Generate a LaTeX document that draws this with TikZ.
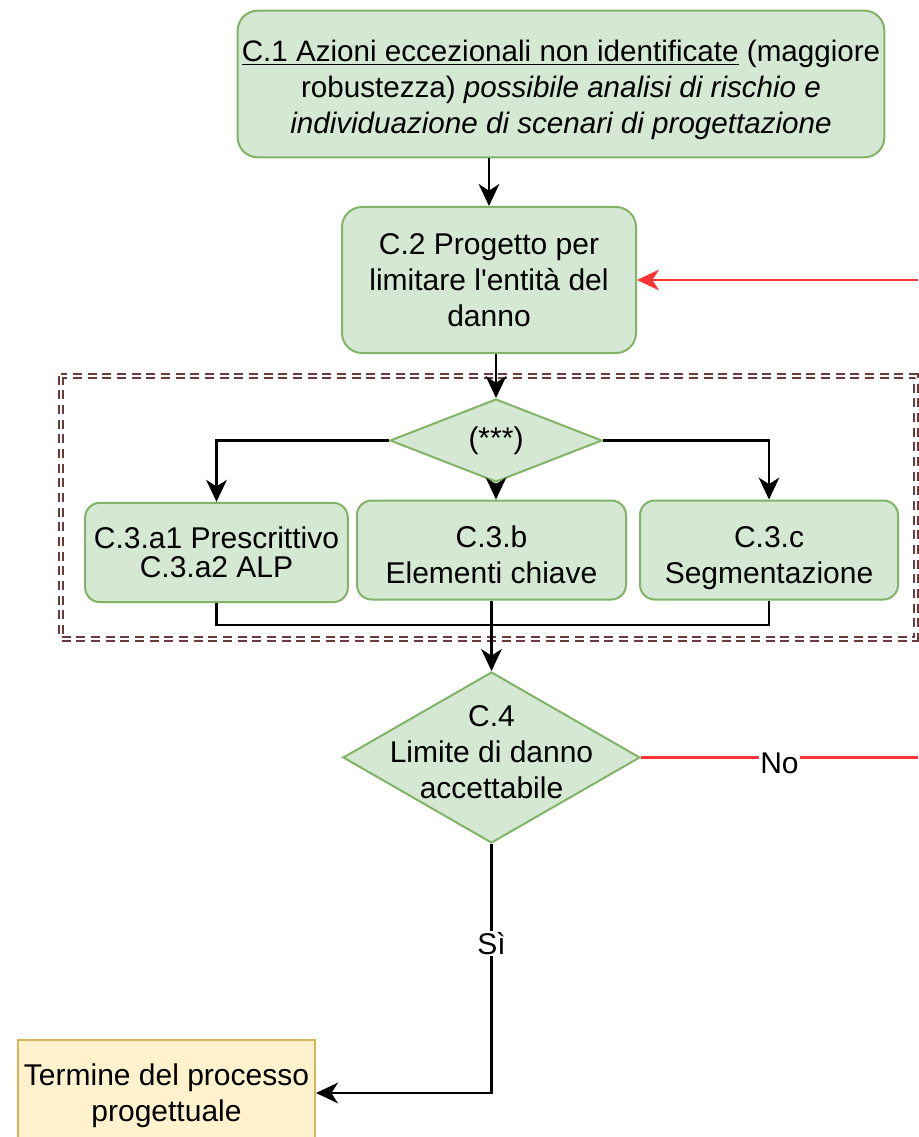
\documentclass[tikz,border=0pt]{standalone}
\usepackage{fontspec}
\setmainfont{Liberation Sans}
\usetikzlibrary{shapes.geometric,arrows.meta,positioning,calc}

\definecolor{boxgreen}{HTML}{D5E8D4}
\definecolor{linegreen}{HTML}{82B366}
\definecolor{boxyellow}{HTML}{FFF2CC}
\definecolor{lineyellow}{HTML}{D6B656}
\definecolor{loopred}{HTML}{FF3333}
\definecolor{framebrown}{HTML}{6B3A3A}

% text block with fixed line boxes, optional extra room on top
\newcommand{\boxrows}[2][0pt]{%
  \rule[-5.7pt]{0pt}{\dimexpr27pt+#1\relax}#2\rule[-5.7pt]{0pt}{27pt}}

\begin{document}
\begin{tikzpicture}[
  x=0.75pt, y=-0.75pt,
  >={Stealth[length=16.5pt,width=15.5pt,inset=5pt]},
  every node/.style={font=\fontsize{22.5}{27}\selectfont},
  phase/.style={draw=linegreen, fill=boxgreen, line width=1.5pt,
    rounded corners=15pt, align=center, inner sep=0pt},
  choice/.style={diamond, draw=linegreen, fill=boxgreen, line width=1.5pt,
    inner sep=0pt},
  closing/.style={draw=lineyellow, fill=boxyellow, line width=1.5pt,
    align=center, inner sep=0pt},
  flow/.style={line width=1.8pt},
  back/.style={draw=loopred, line width=1.7pt},
  tag/.style={fill=white, inner sep=1pt}
]
  \path[fill=white, use as bounding box] (0,0) rectangle (918,1137);

  % Design steps
  \node[phase, minimum width=485pt, minimum height=110pt,
    font=\fontsize{22.2}{27}\selectfont] (c1) at (561,84)
    {\boxrows[5.25pt]{\underline{C.1 Azioni eccezionali non identificate} (maggiore\\
     robustezza) \textit{possibile analisi di rischio e}\\
     \textit{individuazione di scenari di progettazione}}};
  \node[phase, minimum width=220.5pt, minimum height=109.5pt] (c2) at (489,280)
    {\boxrows{C.2 Progetto per\\limitare l\textquotesingle entità del\\danno}};

  % Strategy choice and the three options
  \node[choice, minimum width=159pt, minimum height=53.25pt] (d3) at (496,440.5) {(***)};
  \node[phase, rounded corners=11pt, minimum width=197pt, minimum height=74.5pt,
    font=\fontsize{22.5}{21.5}\selectfont] (c3a) at (216.5,552.5)
    {C.3.a1 Prescrittivo\\C.3.a2 ALP};
  \node[phase, rounded corners=11pt, minimum width=201.75pt, minimum height=74.25pt]
    (c3b) at (491.5,550) {\boxrows[7.5pt]{C.3.b\\Elementi chiave}};
  \node[phase, rounded corners=11pt, minimum width=193.5pt, minimum height=74.25pt]
    (c3c) at (769,550) {\boxrows[7.5pt]{C.3.c\\Segmentazione}};

  % Check and end of the process
  \node[choice, minimum width=222.75pt, minimum height=128.25pt,
    label={[align=center, yshift=4pt]center:{C.4\\Limite di danno\\accettabile}}]
    (c4) at (491.5,757.5) {};
  \node[closing, minimum width=222.75pt, minimum height=79.5pt] (end) at (166.5,1093)
    {\boxrows{Termine del processo\\progettuale}};

  % Frame around the strategy block
  \draw[framebrown, dash pattern=on 6.75pt off 4.25pt, line width=1.5pt,
    double=white, double distance=1.5pt] (60.5,375.5) rectangle (915.5,638.5);

  % Connectors
  \draw[flow,->] (c2.north |- c1.south) -- (c2.north);
  \coordinate (redin) at (918,280);
  \draw[back,->] (redin) -- (c2.east);
  \draw[flow,->] (d3.north |- c2.south) -- (d3.north);
  \draw[flow,->] (d3.west) -| (c3a.north);
  \draw[flow,->] (d3.east) -| (c3c.north);
  \draw[flow,->] (d3.south) -- (d3.south |- c3b.north);
  \coordinate (join) at (491.5,625);
  \draw[flow] (c3a.south) |- (join) -| (c3c.south);
  \draw[flow,->] (c3b.south) -- (c4.north);
  \coordinate (redout) at (918,757.5);
  \draw[back] (c4.east) -- (redout) node[midway, tag, yshift=-4pt] {No};
  \draw[flow,->] (c4.south) |- (end.east) node[pos=0.2, tag] {Sì};
\end{tikzpicture}
\end{document}
